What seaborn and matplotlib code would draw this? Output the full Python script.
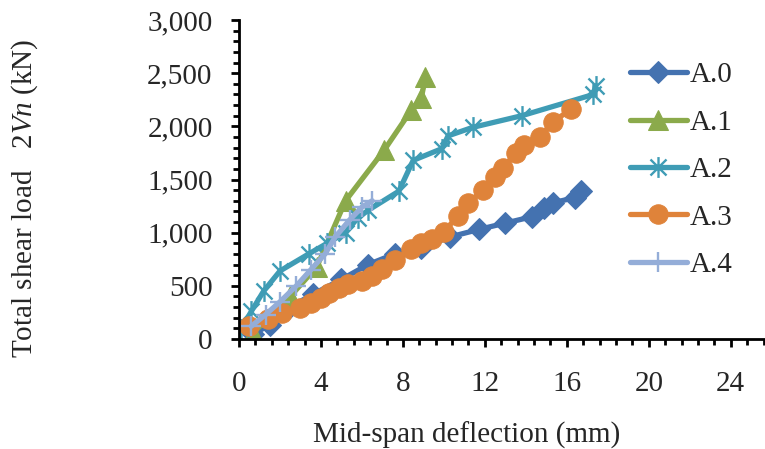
import matplotlib
matplotlib.use("Agg")
import matplotlib.pyplot as plt
import seaborn as sns
import pandas as pd
from matplotlib.path import Path
from matplotlib.ticker import MultipleLocator, FuncFormatter

# ---- data ----
a0_x = [0.7, 1.5, 2.5, 3.6, 5.0, 6.3, 7.6, 8.9, 10.3, 11.7, 13.0, 14.3, 14.9, 15.3, 16.4, 16.7]
a0_y = [50, 130, 300, 420, 560, 700, 800, 860, 960, 1030, 1090, 1150, 1230, 1280, 1330, 1390]

a1_x = [0.7, 2.5, 3.8, 5.2, 7.1, 8.4, 8.9, 9.1]
a1_y = [60, 400, 680, 1300, 1780, 2150, 2270, 2460]

a2_x = [0.1, 0.6, 1.2, 2.0, 3.4, 4.3, 5.2, 5.8, 6.3, 7.8, 8.5, 9.9, 10.2, 11.4, 13.8, 17.3, 17.4]
a2_y = [90, 260, 450, 640, 800, 900, 1000, 1140, 1210, 1390, 1680, 1790, 1910, 1990, 2100, 2300, 2380]

a3_x = [0.5, 1.4, 2.1, 3.0, 3.5, 4.0, 4.4, 4.9, 5.3, 6.0, 6.5, 7.0, 7.6, 8.4, 8.9, 9.4,
        10.0, 10.7, 11.2, 11.9, 12.5, 12.9, 13.5, 13.9, 14.7, 15.3, 16.2]
a3_y = [120, 190, 240, 290, 340, 390, 430, 480, 520, 550, 590, 660, 740, 850, 900, 940,
        1010, 1160, 1280, 1400, 1520, 1610, 1750, 1820, 1900, 2040, 2160]

a4_x = [0.6, 1.3, 2.0, 2.8, 3.5, 4.2, 4.7, 5.4, 6.0, 6.5]
a4_y = [120, 230, 350, 500, 650, 800, 960, 1120, 1240, 1300]

labels = ["A.0", "A.1", "A.2", "A.3", "A.4"]
x_ticks = [0, 4, 8, 12, 16, 20, 24]
y_ticks = [0, 500, 1000, 1500, 2000, 2500, 3000]

sns.set_style("ticks")
plt.rcParams["font.family"] = ["Liberation Serif", "DejaVu Serif"]
plt.rcParams["mathtext.fontset"] = "custom"
plt.rcParams["mathtext.rm"] = "Liberation Serif"
plt.rcParams["mathtext.it"] = "Liberation Serif:italic"

FS = 21

star = Path([(-1, -1), (1, 1), (-1, 1), (1, -1), (0, -1.3), (0, 1.3)],
            [Path.MOVETO, Path.LINETO, Path.MOVETO, Path.LINETO, Path.MOVETO, Path.LINETO])

fig = plt.figure(figsize=(7.65, 4.49), dpi=100)
ax = fig.add_axes([239 / 765, 1 - 339 / 449, 1 - 239 / 765, 319 / 449])

series = [
    (a0_x, a0_y, "#4472B0", "D", 11, {}),
    (a1_x, a1_y, "#8BAA4B", "^", 14, {}),
    (a2_x, a2_y, "#3F9CB5", star, 15, {"markeredgewidth": 1.7, "markerfacecolor": "none"}),
    (a3_x, a3_y, "#DF833A", "o", 14, {}),
    (a4_x, a4_y, "#94ADD8", "+", 14, {"markeredgewidth": 1.7}),
]

for (xs, ys, col, mk, ms, extra), lab in zip(series, labels):
    df = pd.DataFrame({"x": xs, "y": ys})
    kw = dict(markeredgecolor=col, markerfacecolor=col)
    kw.update(extra)
    sns.lineplot(data=df, x="x", y="y", ax=ax, color=col, marker=mk, markersize=ms,
                 linewidth=3.8, sort=False, estimator=None, label=lab, **kw)

ax.set_xlim(0, 25.67)
ax.set_ylim(0, 3000)
ax.set_xticks(x_ticks)
ax.set_yticks(y_ticks)
ax.xaxis.set_minor_locator(MultipleLocator(0.8))
ax.yaxis.set_minor_locator(MultipleLocator(100))
ax.yaxis.set_major_formatter(FuncFormatter(lambda v, p: f"{int(v):,}"))
ax.tick_params(which="major", direction="out", length=6, width=2, labelsize=FS, color="black")
ax.tick_params(axis="x", which="major", pad=17)
ax.tick_params(axis="y", which="major", pad=13)
ax.tick_params(which="minor", direction="out", length=4, width=2, color="black")
for s in ["top", "right"]:
    ax.spines[s].set_visible(False)
for s in ["left", "bottom"]:
    ax.spines[s].set_linewidth(2)
    ax.spines[s].set_color("black")
ax.set_xlabel("")
ax.set_ylabel("")

fig.text(467 / 765, 1 - 435 / 449, "Mid-span deflection (mm)", ha="center", va="center", fontsize=FS)
fig.text(25 / 765, 1 - 198 / 449, "Total shear load   2$Vn$ (kN)", ha="center", va="center",
         rotation=90, fontsize=FS)

leg = ax.legend(loc="upper left", bbox_to_anchor=(630 / 765, 1 - 62 / 449),
                bbox_transform=fig.transFigure, frameon=False, fontsize=FS,
                handlelength=1.95, handletextpad=0.1, labelspacing=0.72, borderpad=0,
                borderaxespad=0)

fig.savefig("out.png", dpi=100)
